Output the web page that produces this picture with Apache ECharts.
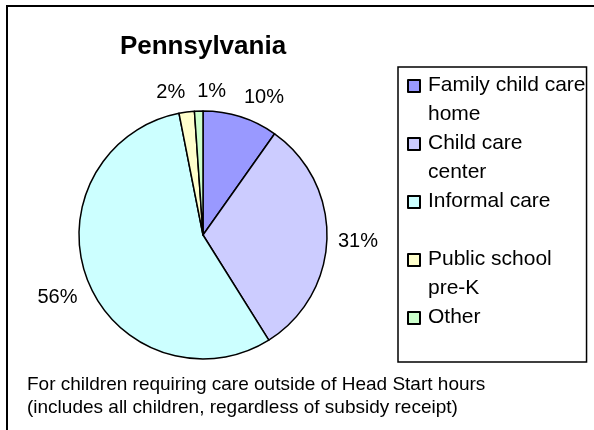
<!DOCTYPE html>
<html>
<head>
<meta charset="utf-8">
<script src="https://cdn.jsdelivr.net/npm/echarts@6/dist/echarts.min.js"></script>
<style>
  html, body { margin: 0; padding: 0; background: #fff; }
  #chart { width: 594px; height: 430px; }
</style>
</head>
<body>
<div id="chart"></div>
<script>
// data
const chartTitle = 'Pennsylvania';
const categories = ['Family child care home', 'Child care center', 'Informal care', 'Public school pre-K', 'Other'];
const shares = [9.8, 31.3, 55.8, 2.0, 1.1];
const noteLines = [
    'For children requiring care outside of Head Start hours',
    '(includes all children, regardless of subsidy receipt)'
];

// styling
const sliceColors = ['#9999ff', '#ccccff', '#ccffff', '#ffffcc', '#ccffcc'];
const FONT = 'Arial, "Liberation Sans", sans-serif';
const PIE_X = 203, PIE_Y = 235, PIE_R = 124, LABEL_GAP = 11;
const LABEL_FONT = 20, LABEL_H = 22, LABEL_SPACING = 12, LABEL_NUDGE_Y = 2;
const LEGEND_FONT = 21, LEGEND_TEXT_W = 158;

const chart = echarts.init(document.getElementById('chart'));
const total = shares.reduce((a, b) => a + b, 0);
const pctText = v => Math.round(v / total * 100) + '%';

const measureCtx = document.createElement('canvas').getContext('2d');
function textWidth(str, size) {
    measureCtx.font = size + 'px ' + FONT;
    return measureCtx.measureText(str).width;
}

// label centres: just off the rim like Excel's "outside end",
// then neighbours that collide are pushed apart sideways
function labelCentres() {
    let before = 0;
    const boxes = shares.map(v => {
        const a = (before + v / 2) / total * Math.PI * 2;
        before += v;
        const dx = Math.sin(a), dy = -Math.cos(a);
        const w = textWidth(pctText(v), LABEL_FONT);
        return {
            w: w,
            x: PIE_X + dx * (PIE_R + LABEL_GAP) + Math.sign(dx) * Math.min(1, Math.abs(dx) * 8) * w / 2,
            y: PIE_Y + dy * (PIE_R + LABEL_GAP) + Math.sign(dy) * Math.min(1, Math.abs(dy) * 3) * LABEL_H / 2 + LABEL_NUDGE_Y
        };
    });
    const order = boxes.map((b, i) => i).sort((i, j) => boxes[i].x - boxes[j].x);
    for (let k = 1; k < order.length; k++) {
        const cur = boxes[order[k]];
        for (let m = 0; m < k; m++) {
            const prev = boxes[order[m]];
            if (Math.abs(cur.y - prev.y) >= LABEL_H) continue;
            const need = (cur.w + prev.w) / 2 + LABEL_SPACING;
            if (cur.x - prev.x < need) cur.x = prev.x + need;
        }
    }
    return boxes;
}
const labelBoxes = labelCentres();

function placeLabel(p) {
    const b = labelBoxes[p.dataIndex];
    return { x: b.x, y: b.y, align: 'center', verticalAlign: 'middle' };
}

// every legend entry takes two lines; long names wrap at a space
function legendText(name) {
    const fits = s => textWidth(s, LEGEND_FONT) <= LEGEND_TEXT_W;
    if (fits(name)) return name + '\n ';
    const words = name.split(' ');
    let line = words[0], k = 1;
    while (k < words.length && fits(line + ' ' + words[k])) {
        line += ' ' + words[k];
        k++;
    }
    return line + '\n' + words.slice(k).join(' ');
}

const option = {
    backgroundColor: '#fff',
    animation: false,
    title: [
        {
            text: chartTitle,
            left: PIE_X, top: 34, padding: 0, textAlign: 'center',
            textStyle: { fontSize: 26, fontWeight: 'bold', lineHeight: 26, fontFamily: FONT, color: '#000' }
        },
        {
            text: noteLines.join('\n'),
            left: 27, top: 373, padding: 0,
            textStyle: { fontSize: 19, fontWeight: 'normal', lineHeight: 23, fontFamily: FONT, color: '#000' }
        }
    ],
    legend: {
        orient: 'vertical',
        left: 398, top: 67,
        padding: [4, 1, 1, 9],
        borderColor: '#000', borderWidth: 1.5,
        itemGap: 0, itemWidth: 15, itemHeight: 56,
        icon: 'path://M0,0M15,56M0,8h12v12h-12z',
        selectedMode: false,
        formatter: legendText,
        textStyle: {
            fontSize: LEGEND_FONT, fontFamily: FONT, color: '#000', lineHeight: 28.75
        },
        data: categories
    },
    graphic: [{
        type: 'rect', silent: true,
        shape: { x: 7, y: 6, width: 700, height: 600 },
        style: { fill: 'none', stroke: '#000', lineWidth: 2 }
    }],
    series: [{
        type: 'pie',
        center: [PIE_X, PIE_Y],
        radius: PIE_R,
        startAngle: 90,
        clockwise: true,
        avoidLabelOverlap: false,
        emphasis: { disabled: true },
        itemStyle: { borderColor: '#000', borderWidth: 1.5 },
        label: {
            show: true,
            position: 'outside',
            formatter: p => pctText(p.value),
            fontSize: LABEL_FONT, lineHeight: LABEL_H, fontFamily: FONT, color: '#000'
        },
        labelLine: { show: false },
        labelLayout: placeLabel,
        data: categories.map((name, i) => ({
            name: name, value: shares[i], itemStyle: { color: sliceColors[i] }
        }))
    }]
};

chart.setOption(option);
</script>
</body>
</html>
